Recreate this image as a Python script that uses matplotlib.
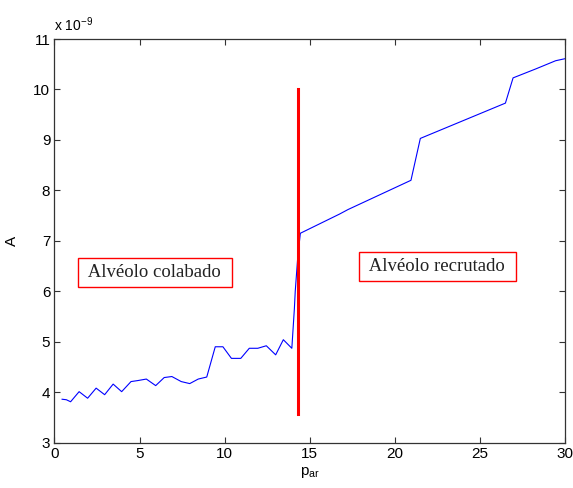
import numpy as np
import matplotlib
matplotlib.use('Agg')
import matplotlib.pyplot as plt

# pressao (p_ar) e amplitude A (em unidades de 1e-9)
p_ar = [0.45, 0.7, 0.95, 1.45, 1.95, 2.45, 2.95, 3.45, 3.95, 4.5, 4.9, 5.4,
        5.95, 6.45, 6.9, 7.45, 7.95, 8.45, 8.95, 9.45, 9.9, 10.4, 10.95, 11.45,
        11.95, 12.45, 13.0, 13.45, 13.95, 14.1, 14.15, 14.3, 14.45, 16.75,
        17.25, 20.95, 21.5, 26.5, 26.95, 28.3, 29.45, 30.0]
A = [3.86, 3.85, 3.81, 4.01, 3.88, 4.08, 3.95, 4.16, 4.01, 4.21, 4.23, 4.26,
     4.13, 4.29, 4.31, 4.21, 4.17, 4.26, 4.30, 4.90, 4.90, 4.67, 4.67, 4.87,
     4.87, 4.92, 4.74, 5.04, 4.87, 5.66, 6.0, 6.69, 7.15, 7.53,
     7.62, 8.20, 9.03, 9.73, 10.23, 10.41, 10.57, 10.61]

# limite entre as duas regioes
p_lim = 14.3
A_lim = [3.57, 10.0]

labels = ['Alvéolo colabado', 'Alvéolo recrutado']
label_pos = [(5.9, 6.38), (22.5, 6.5)]

plt.rcParams['font.family'] = ['Liberation Sans', 'DejaVu Sans']
plt.rcParams['mathtext.default'] = 'regular'

fig = plt.figure(figsize=(5.73, 4.88), dpi=100)
ax = fig.add_axes([0.095, 0.093, 0.891, 0.827])

ax.plot(p_ar, A, color='blue', linewidth=0.8)
ax.plot([p_lim, p_lim], A_lim, color='red', linewidth=2.2)

for txt, (x, y) in zip(labels, label_pos):
    ax.text(x, y, ' ' + txt + ' ', ha='center', va='center', fontsize=13.5,
            family='Liberation Serif', color='#222222',
            bbox=dict(boxstyle='square,pad=0.32', facecolor='white',
                      edgecolor='red', linewidth=1))

ax.set_xlim(0, 30)
ax.set_ylim(3, 11)
ax.set_xticks(range(0, 31, 5))
ax.set_yticks(range(3, 12))
ax.tick_params(direction='in', top=True, right=True, labelsize=11,
               length=4, width=0.8, color='#333333', pad=3)
for s in ax.spines.values():
    s.set_linewidth(0.9)
    s.set_color('#333333')

ax.set_xlabel('p$_{ar}$', fontsize=11, labelpad=3)
ax.set_ylabel('A', fontsize=11, labelpad=10)
ax.text(0.0, 1.012, 'x 10$^{-9}$', transform=ax.transAxes, fontsize=10,
        ha='left', va='bottom')

fig.savefig('out.png', dpi=100, facecolor='white')
